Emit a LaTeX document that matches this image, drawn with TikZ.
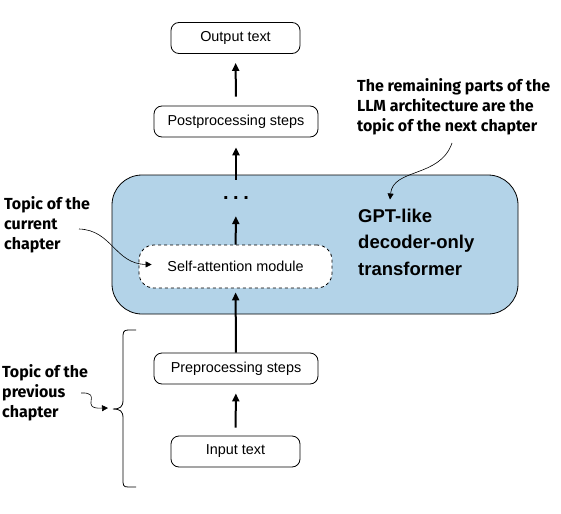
\documentclass[tikz,border=0pt]{standalone}
\usepackage{fontspec}
\setmainfont{Liberation Sans}
\newfontfamily\notefont{Fira Sans}
\usetikzlibrary{arrows.meta}
\usetikzlibrary{calc}
\usepackage{xcolor}
\definecolor{gptblue}{HTML}{B3D3E8}

\tikzset{
  stepbox/.style={draw, line width=0.8pt, rounded corners=8pt, minimum height=31pt,
    inner sep=0pt, font=\fontsize{14.4}{17}\selectfont},
  flow/.style={line width=2pt, -{Triangle[length=8pt,width=7pt]}},
  note/.style={font=\notefont\bfseries\fontsize{16}{20}\selectfont, align=left, inner sep=0pt},
  pointer/.style={line width=0.6pt, -{Triangle[length=6pt,width=6pt]}}
}

\begin{document}
\begin{tikzpicture}[x=1pt,y=-1pt]
        \useasboundingbox (0,0) rectangle (561,513);

        % GPT block
        \node[draw, line width=0.8pt, fill=gptblue, rounded corners=30pt,
              minimum width=406pt, minimum height=139pt] (gpt) at (315,244.5) {};
        \node[font=\bfseries\fontsize{18.5}{26.5}\selectfont, align=left, anchor=west, inner sep=0pt]
              (gpttext) at (358,242) {GPT-like\\decoder-only\\transformer};

        % Steps
        \node[stepbox, minimum width=129pt] (output) at (235.5,38) {Output text};
        \node[stepbox, minimum width=164pt] (post) at (236,121.5) {Postprocessing steps};
        \node[font=\bfseries\fontsize{20}{20}\selectfont, minimum height=36pt, inner sep=0pt]
              (dots) at (236,198) {.\hspace{4.5pt}.\hspace{4.5pt}.};
        \node[stepbox, draw, dashed, fill=white, rounded corners=15pt,
              minimum width=193pt, minimum height=43pt] (attn) at (235.5,266.5) {Self-attention module};
        \node[stepbox, minimum width=164pt] (pre) at (236,368.5) {Preprocessing steps};
        \node[stepbox, minimum width=129pt] (input) at (235.5,451.5) {Input text};

        % Flow arrows
        \draw[flow, shorten <=8pt, shorten >=9pt] (input) -- (pre);
        \draw[flow, shorten >=4pt] (pre) -- (attn);
        \draw[flow] (attn) -- (dots);
        \draw[flow, shorten >=10pt] (dots) -- (post);
        \draw[flow, shorten <=9pt, shorten >=9pt] (post) -- (output);

        % Notes
        \node[note, anchor=west] (current) at (4,225) {Topic of the\\current\\chapter};
        \node[note, anchor=west] (previous) at (2,393) {Topic of the\\previous\\chapter};
        \node[note, anchor=west] (remaining) at (357,107) {The remaining parts of the\\LLM architecture are the\\topic of the next chapter};

        \coordinate (curstart) at (79,229);
        \coordinate (prevstart) at (81,393);
        \coordinate (remstart) at (452,143);
        \coordinate (bracetip) at (113,409);

        \draw[pointer] (curstart) .. controls (112,230) and (115,264) .. ($(attn.west)+(13,-2)$);
        \draw[pointer] (remstart) .. controls (440,178) and (393,168) .. ($(gpttext.north west)+(32,-9)$);
        \draw[pointer] (prevstart) .. controls (104,392) and (78,409) .. ($(bracetip)+(-5,-1)$);

        % Brace
        \draw[line width=0.8pt] (136,330) -- (128,330) .. controls (123,330) and (123,333) .. (123,338)
              -- (123,400) .. controls (123,407) and (120,409) .. (bracetip)
              .. controls (120,409) and (123,411) .. (123,418)
              -- (123,479) .. controls (123,485) and (123,487) .. (128,487) -- (136,487);
\end{tikzpicture}
\end{document}
